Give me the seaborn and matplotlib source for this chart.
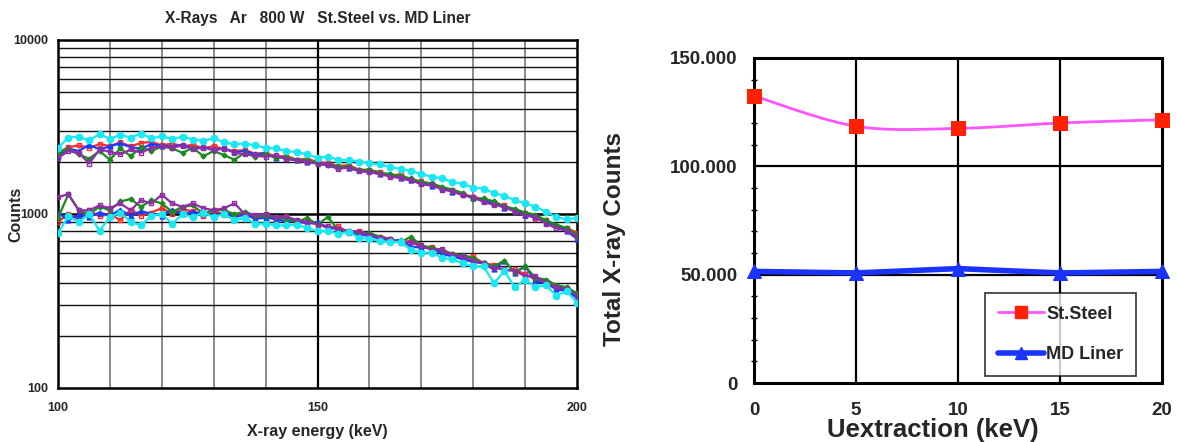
import numpy as np
import pandas as pd
import matplotlib
matplotlib.use("Agg")
import matplotlib.pyplot as plt
from matplotlib.ticker import FixedLocator, FuncFormatter, NullFormatter, LogLocator
from matplotlib.lines import Line2D
import seaborn as sns

# ---------------- spectra: X-ray energy (keV) vs counts ----------------
energy = list(range(100, 201, 2))

# St.Steel wall spectra (upper family)
ss_red = [2250, 2420, 2480, 2400, 2520, 2460, 2580, 2450, 2560, 2600, 2480, 2540, 2450, 2500, 2380,
          2460, 2350, 2300, 2330, 2220, 2250, 2130, 2160, 2050, 2080, 1990, 1960, 1880, 1910, 1800,
          1790, 1740, 1660, 1690, 1560, 1540, 1480, 1400, 1380, 1290, 1260, 1210, 1140, 1120, 1040,
          1010, 940, 920, 850, 830, 780]
ss_blue = [2150, 2380, 2300, 2500, 2350, 2450, 2550, 2420, 2380, 2520, 2470, 2440, 2500, 2380, 2420,
           2350, 2380, 2260, 2310, 2200, 2230, 2100, 2120, 2040, 2000, 1960, 1930, 1870, 1830, 1780,
           1760, 1690, 1700, 1600, 1560, 1500, 1450, 1420, 1340, 1300, 1230, 1190, 1160, 1080, 1060,
           990, 960, 890, 870, 800, 720]
ss_green = [2250, 2350, 2200, 2080, 2300, 2050, 2380, 2150, 2420, 2300, 2450, 2380, 2250, 2400, 2150,
            2300, 2180, 2050, 2250, 2130, 2200, 2100, 2130, 2050, 2040, 1960, 1900, 1870, 1880, 1780,
            1800, 1720, 1700, 1650, 1600, 1530, 1500, 1430, 1380, 1320, 1220, 1230, 1180, 1110, 1070,
            1020, 990, 920, 870, 830, 760]
ss_purple = [2100, 2300, 2250, 1950, 2350, 2280, 2200, 2350, 2250, 2400, 2450, 2400, 2480, 2350, 2420,
             2320, 2380, 2250, 2200, 2170, 2130, 2180, 2060, 2040, 1980, 1950, 1900, 1820, 1850, 1760,
             1740, 1700, 1640, 1610, 1570, 1480, 1470, 1380, 1350, 1280, 1260, 1170, 1130, 1100, 1030,
             980, 960, 880, 830, 800, 740]
ss_cyan = [2400, 2750, 2780, 2650, 2880, 2700, 2850, 2750, 2900, 2720, 2800, 2700, 2780, 2680, 2640,
           2720, 2580, 2520, 2540, 2480, 2400, 2380, 2300, 2270, 2200, 2100, 2140, 2050, 2040, 2000,
           1960, 1930, 1860, 1820, 1760, 1700, 1640, 1600, 1530, 1490, 1420, 1400, 1320, 1270, 1200,
           1150, 1100, 1030, 960, 930, 950]

# MD Liner spectra (lower family)
md_red = [900, 1000, 930, 1050, 970, 1000, 920, 1060, 980, 1020, 1080, 1000, 1060, 1040, 980,
          1050, 990, 980, 1020, 950, 990, 920, 960, 900, 890, 880, 830, 850, 780, 800,
          760, 740, 720, 690, 700, 640, 650, 600, 590, 560, 570, 520, 510, 470, 480,
          450, 420, 410, 380, 370, 350]
md_blue = [1020, 920, 990, 960, 1020, 980, 1060, 970, 1040, 1000, 980, 1060, 1000, 1030, 1000,
           980, 1010, 960, 990, 940, 950, 940, 900, 920, 880, 900, 830, 820, 790, 760,
           750, 720, 700, 710, 650, 640, 640, 590, 570, 550, 530, 520, 480, 540, 460,
           500, 410, 400, 370, 360, 330]
md_green = [950, 1300, 1050, 1000, 1100, 1050, 1180, 1220, 1100, 1200, 1150, 1030, 1100, 1120, 1000,
            1060, 1050, 1000, 1030, 980, 970, 960, 940, 900, 950, 870, 960, 810, 800, 780,
            780, 740, 720, 690, 740, 660, 640, 620, 590, 580, 560, 520, 500, 540, 460,
            500, 430, 420, 390, 380, 350]
md_purple = [1250, 1300, 1050, 1050, 1120, 1080, 1150, 1050, 1200, 1150, 1290, 1150, 1100, 1150, 1080,
             1050, 1080, 1150, 1000, 990, 1000, 960, 970, 920, 900, 870, 850, 820, 800, 790,
             760, 730, 720, 680, 690, 660, 620, 630, 580, 570, 540, 520, 490, 480, 470,
             440, 440, 400, 380, 370, 340]
md_cyan = [780, 970, 900, 1000, 800, 960, 1020, 900, 860, 980, 1000, 880, 1000, 960, 1020,
           960, 1000, 920, 950, 880, 880, 860, 860, 870, 830, 800, 800, 770, 790, 730,
           720, 700, 690, 690, 620, 600, 600, 560, 550, 520, 500, 500, 400, 470, 380,
           420, 380, 390, 340, 360, 310]

# ---------------- totals vs extraction voltage ----------------
u_extraction = [0, 5, 10, 15, 20]
total_steel = [132500, 118500, 117500, 120000, 121500]
total_liner = [51500, 50800, 52800, 50800, 51500]

xlim_spec = (100, 200)
ylim_spec = (100, 10000)
yticks_total = [0, 50000, 100000, 150000]
xticks_total = [0, 5, 10, 15, 20]

sns.set_style("white")
plt.rcParams["font.family"] = ["Liberation Sans", "DejaVu Sans"]
plt.rcParams["font.weight"] = "bold"

fig = plt.figure(figsize=(11.77, 4.42), dpi=100)
W, H = 1177, 442


def axes_px(x0, y0, x1, y1):
    return fig.add_axes([x0 / W, 1 - y1 / H, (x1 - x0) / W, (y1 - y0) / H])


# ======================= left: spectra =======================
ax1 = axes_px(58, 40, 577, 388)
ax1.set_yscale("log")
ax1.set_xlim(*xlim_spec)
ax1.set_ylim(*ylim_spec)

# grid: grey verticals every 10 keV, black at 150; black log horizontals
for xv in range(110, 200, 10):
    ax1.axvline(xv, color="black" if xv == 150 else "#8a8a8a", lw=1.6 if xv == 150 else 1.4, zorder=0)
for dec in (100, 1000):
    for m in range(2, 10):
        ax1.axhline(dec * m, color="#111111", lw=1.0, zorder=0)
ax1.axhline(1000, color="black", lw=1.8, zorder=0)

styles = [
    ("#ff2a2a", "s", "none", 3.5),
    ("#1a3cff", "^", "#1a3cff", 3.5),
    ("#1d8a1d", "D", "#1d8a1d", 2.5),
    ("#8e2ea6", "s", "none", 3.5),
    ("#18e8f2", "o", "#18e8f2", 4.5),
]
spec_steel = [ss_red, ss_blue, ss_green, ss_purple, ss_cyan]
spec_liner = [md_red, md_blue, md_green, md_purple, md_cyan]
for series_group in (spec_liner, spec_steel):
    for vals, (col, mk, mfc, ms) in zip(series_group, styles):
        sns.lineplot(x=energy, y=vals, ax=ax1, color=col, lw=1.6, marker=mk,
                     markerfacecolor=mfc, markeredgecolor=col, markersize=ms,
                     markeredgewidth=1.0, legend=False, zorder=3)

ax1.xaxis.set_major_locator(FixedLocator([100, 150, 200]))
ax1.yaxis.set_major_locator(FixedLocator([100, 1000, 10000]))
ax1.yaxis.set_minor_locator(LogLocator(subs=np.arange(2, 10)))
ax1.yaxis.set_minor_formatter(NullFormatter())
ax1.yaxis.set_major_formatter(FuncFormatter(lambda v, p: f"{int(v)}"))
ax1.tick_params(axis="both", which="both", length=0, labelsize=9)
ax1.tick_params(axis="y", pad=7)
ax1.tick_params(axis="x", pad=10)
for lab in ax1.get_xticklabels() + ax1.get_yticklabels():
    lab.set_fontweight("bold")
for sp in ax1.spines.values():
    sp.set_color("black")
    sp.set_linewidth(1.8)
ax1.set_xlabel("X-ray energy (keV)", fontsize=11.5, fontweight="bold", labelpad=7)
ax1.set_ylabel("Counts", fontsize=11.5, fontweight="bold")
ax1.yaxis.set_label_coords(-0.067, 0.5)
ax1.set_title("X-Rays   Ar   800 W   St.Steel vs. MD Liner", fontsize=11.2, fontweight="bold", pad=12)

# ======================= right: totals =======================
ax2 = axes_px(754, 58, 1162, 383)
ax2.set_xlim(0, 20)
ax2.set_ylim(0, 150000)
for xv in (5, 10, 15):
    ax2.axvline(xv, color="black", lw=1.6, zorder=0)
for yv in (50000, 100000):
    ax2.axhline(yv, color="black", lw=1.6, zorder=0)

# smoothed curve through the St.Steel totals (Bezier, tangents from neighbours)
P = np.column_stack([np.array(u_extraction, float), np.array(total_steel, float)])
Pe = np.vstack([P[0], P, P[-1]])
t = np.linspace(0, 1, 40)[:, None]
curve = []
for i in range(len(P) - 1):
    p0, p1 = Pe[i + 1], Pe[i + 2]
    c1 = p0 + (Pe[i + 2] - Pe[i]) / 6.0
    c2 = p1 - (Pe[i + 3] - Pe[i + 1]) / 6.0
    seg = (1 - t) ** 3 * p0 + 3 * (1 - t) ** 2 * t * c1 + 3 * (1 - t) * t ** 2 * c2 + t ** 3 * p1
    curve.append(seg if i == 0 else seg[1:])
curve = np.vstack(curve)
smooth = pd.DataFrame({"u": curve[:, 0], "n": curve[:, 1]})
sns.lineplot(data=smooth, x="u", y="n", ax=ax2, sort=False, estimator=None, color="#ff55ff",
             lw=2.0, zorder=3, legend=False)
sns.lineplot(x=u_extraction, y=total_steel, ax=ax2, lw=0, marker="s", markersize=10,
             color="#ff2200", markeredgecolor="#ff2200", zorder=4, legend=False)
sns.lineplot(x=u_extraction, y=total_liner, ax=ax2, color="#1a33ff", lw=4.0, marker="^",
             markersize=10, markeredgecolor="#1a33ff", zorder=4, legend=False)
for ln in ax2.lines[-2:]:
    ln.set_clip_on(False)

ax2.xaxis.set_major_locator(FixedLocator(xticks_total))
ax2.yaxis.set_major_locator(FixedLocator(yticks_total))
ax2.yaxis.set_minor_locator(FixedLocator(list(range(10000, 150000, 10000))))
ax2.yaxis.set_major_formatter(FuncFormatter(lambda v, p: "0" if v == 0 else f"{int(v):,}".replace(",", ".")))
ax2.tick_params(axis="both", which="major", length=0, labelsize=13.5)
ax2.tick_params(axis="y", which="major", pad=12)
ax2.tick_params(axis="x", which="major", pad=14)
ax2.tick_params(axis="y", which="minor", length=5, width=1.0, direction="inout", left=True, color="black")
for lab in ax2.get_xticklabels() + ax2.get_yticklabels():
    lab.set_fontweight("bold")
for sp in ax2.spines.values():
    sp.set_color("black")
    sp.set_linewidth(2.2)
ax2.set_xlabel("")
ax2.set_ylabel("")
fig.text(615 / W, 1 - 239 / H, "Total X-ray Counts", rotation=90, ha="center", va="center",
         fontsize=17.5, fontweight="bold")
fig.text(933 / W, 1 - 430 / H, "Uextraction (keV)", ha="center", va="center",
         fontsize=18.5, fontweight="bold")

# legend
handles = [
    Line2D([], [], color="#ff55ff", lw=2.0, marker="s", markersize=8, markerfacecolor="#ff2200",
           markeredgecolor="#ff2200"),
    Line2D([], [], color="#1a33ff", lw=4.0, marker="^", markersize=8, markerfacecolor="#1a33ff",
           markeredgecolor="#1a33ff"),
]
leg = ax2.legend(handles, ["St.Steel", "MD Liner"], loc="upper left",
                 bbox_to_anchor=((985 - 754) / 408, 1 - (293 - 58) / 325),
                 borderaxespad=0, fancybox=False, frameon=True, edgecolor="black", borderpad=0.7,
                 handlelength=2.55, handletextpad=0.15, labelspacing=1.3,
                 prop={"weight": "bold", "size": 13})
leg.get_frame().set_linewidth(1.2)
leg.set_zorder(5)

fig.savefig("out.png", dpi=100)
